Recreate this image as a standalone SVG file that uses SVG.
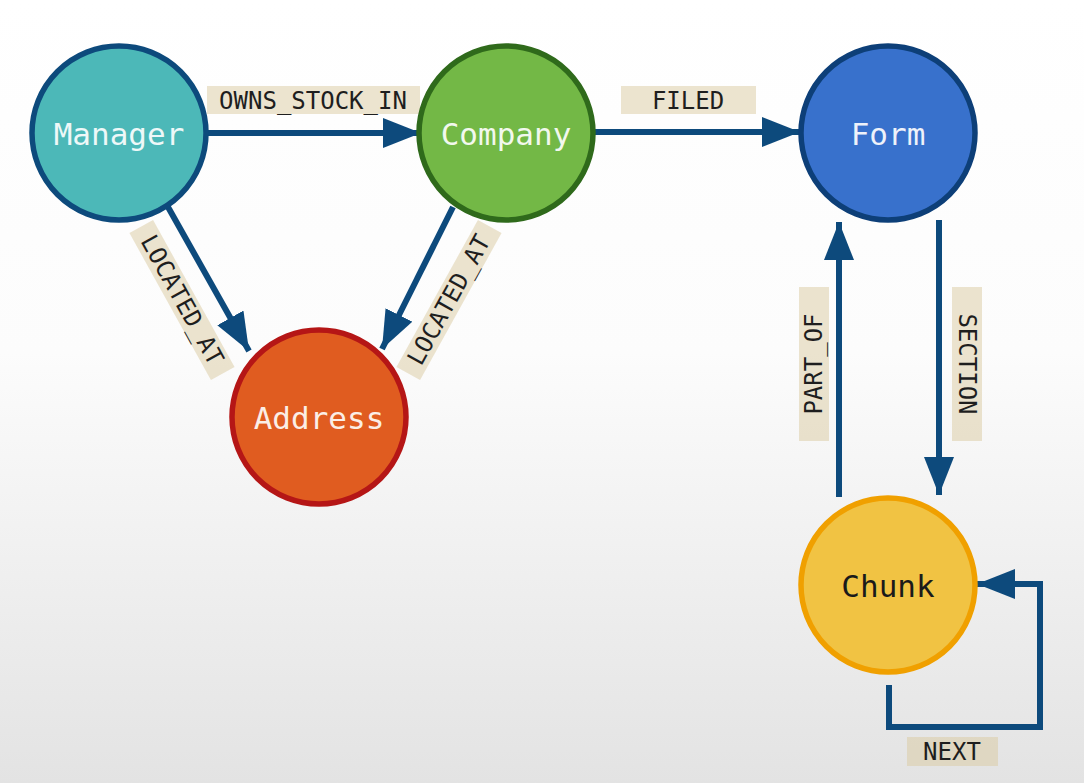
<svg xmlns="http://www.w3.org/2000/svg" width="1084" height="783" viewBox="0 0 1084 783">
<defs>
<linearGradient id="bg" x1="0" y1="0" x2="0" y2="1">
<stop offset="0" stop-color="#ffffff"/>
<stop offset="0.45" stop-color="#fcfcfc"/>
<stop offset="1" stop-color="#e3e3e3"/>
</linearGradient>
<marker id="arr" markerUnits="userSpaceOnUse" markerWidth="40" markerHeight="32" refX="38" refY="15" orient="auto">
<path d="M0,0 L38,15 L0,30 z" fill="#0d4a7c"/>
</marker>
<style>
.edge{fill:none;stroke:#0d4a7c;stroke-width:6;marker-end:url(#arr)}
.loop{fill:none;stroke:#0d4a7c;stroke-width:6;stroke-linejoin:miter;marker-end:url(#arr)}
.lbl{fill:#d9c9a0;fill-opacity:0.5}
.lt{font-family:"DejaVu Sans Mono","Liberation Mono",monospace;font-size:24px;fill:#1e1e1e;text-anchor:middle;dominant-baseline:central}
.nt{font-family:"DejaVu Sans Mono","Liberation Mono",monospace;font-size:31px;text-anchor:middle;dominant-baseline:central}
.node{stroke-width:5.5}
</style>
</defs>
<rect x="0" y="0" width="1084" height="783" fill="url(#bg)"/>

<g id="connectors">
<line class="edge" x1="207" y1="133" x2="421" y2="133"/>
<line class="edge" x1="594" y1="132" x2="800" y2="132"/>
<line class="edge" x1="168" y1="207" x2="249" y2="351"/>
<line class="edge" x1="453" y1="207" x2="382" y2="349"/>
<line class="edge" x1="839" y1="497" x2="839" y2="222"/>
<line class="edge" x1="939" y1="220" x2="939" y2="495"/>
<polyline class="loop" points="889,685 889,727 1040,727 1040,584 977,584"/>
</g>

<g id="edge-labels">
<g id="label-owns">
<rect class="lbl" x="207" y="86" width="213" height="28"/>
<text class="lt" x="313" y="101">OWNS_STOCK_IN</text>
</g>
<g id="label-filed">
<rect class="lbl" x="621" y="86" width="135" height="28"/>
<text class="lt" x="688" y="101">FILED</text>
</g>
<g id="label-loc1" transform="translate(182,300) rotate(61)">
<rect class="lbl" x="-84" y="-13.5" width="168" height="27"/>
<text class="lt" x="0" y="0">LOCATED_AT</text>
</g>
<g id="label-loc2" transform="translate(449,300) rotate(-61)">
<rect class="lbl" x="-84" y="-13.5" width="168" height="27"/>
<text class="lt" x="0" y="0">LOCATED_AT</text>
</g>
<g id="label-partof" transform="translate(814,364) rotate(-90)">
<rect class="lbl" x="-77" y="-15" width="154" height="30"/>
<text class="lt" x="0" y="0">PART_OF</text>
</g>
<g id="label-section" transform="translate(967,364) rotate(90)">
<rect class="lbl" x="-77" y="-15" width="154" height="30"/>
<text class="lt" x="0" y="0">SECTION</text>
</g>
<g id="label-next">
<rect class="lbl" x="907" y="737" width="91" height="29"/>
<text class="lt" x="952" y="752">NEXT</text>
</g>
</g>

<g id="node-manager">
<circle class="node" cx="119" cy="133" r="87" fill="#4cb8b8" stroke="#0d4a7c"/>
<text class="nt" x="119" y="134" fill="#eef8f8">Manager</text>
</g>
<g id="node-company">
<circle class="node" cx="506" cy="133" r="87" fill="#73b846" stroke="#2f6a1b"/>
<text class="nt" x="506" y="134" fill="#f2f8ee">Company</text>
</g>
<g id="node-form">
<circle class="node" cx="888" cy="133" r="87" fill="#3871cc" stroke="#0d3f78"/>
<text class="nt" x="888" y="134" fill="#eef2fa">Form</text>
</g>
<g id="node-address">
<circle class="node" cx="319" cy="417" r="87" fill="#e05c20" stroke="#b51616"/>
<text class="nt" x="319" y="418" fill="#fbeee6">Address</text>
</g>
<g id="node-chunk">
<circle class="node" cx="888" cy="585" r="87" fill="#f1c343" stroke="#f0a000"/>
<text class="nt" x="888" y="586" fill="#1a1a1a">Chunk</text>
</g>
</svg>
